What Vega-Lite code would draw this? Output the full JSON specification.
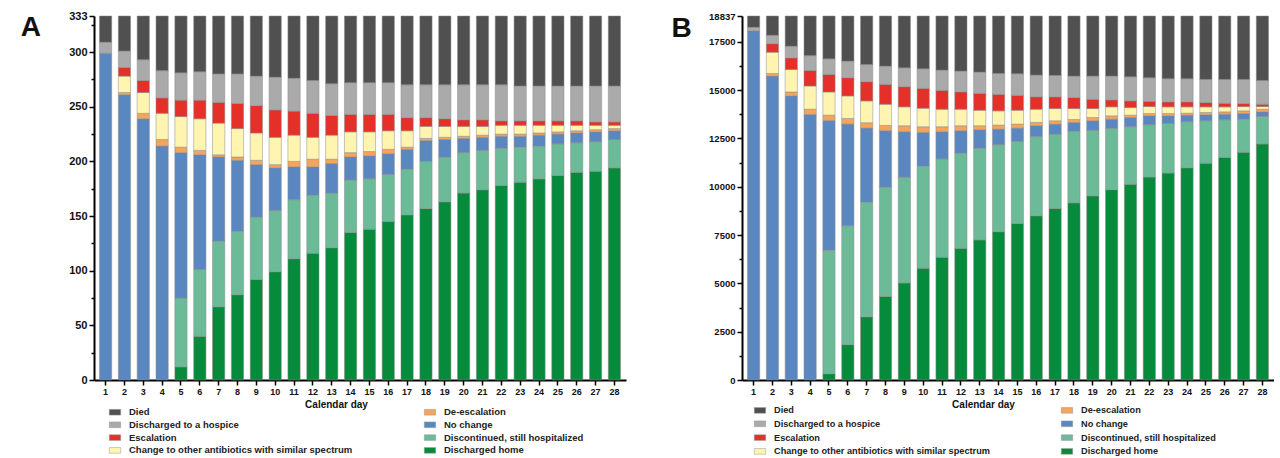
{
  "$schema": "https://vega.github.io/schema/vega-lite/v6.json",
  "padding": {"left": 20, "top": 10, "right": 0, "bottom": 0},
  "background": "white",
  "spacing": 45,
  "config": {"view": {"stroke": null}, "font": "Liberation Sans"},
  "datasets": {
    "cats": [
      {"key": "h", "label": "Discharged home", "ord": 1},
      {"key": "s", "label": "Discontinued, still hospitalized", "ord": 2},
      {"key": "n", "label": "No change", "ord": 3},
      {"key": "d", "label": "De-escalation", "ord": 4},
      {"key": "c", "label": "Change to other antibiotics with similar spectrum", "ord": 5},
      {"key": "e", "label": "Escalation", "ord": 6},
      {"key": "p", "label": "Discharged to a hospice", "ord": 7},
      {"key": "x", "label": "Died", "ord": 8}
    ],
    "A": [
      {"day": 1, "h": 0, "s": 0, "n": 299, "d": 0, "c": 0, "e": 0, "p": 10, "x": 24},
      {"day": 2, "h": 0, "s": 0, "n": 261, "d": 2, "c": 15, "e": 8, "p": 15, "x": 32},
      {"day": 3, "h": 0, "s": 0, "n": 239, "d": 5, "c": 19, "e": 11, "p": 19, "x": 40},
      {"day": 4, "h": 0, "s": 0, "n": 214, "d": 6, "c": 24, "e": 14, "p": 25, "x": 50},
      {"day": 5, "h": 12, "s": 63, "n": 133, "d": 5, "c": 28, "e": 15, "p": 25, "x": 52},
      {"day": 6, "h": 40, "s": 61, "n": 105, "d": 4, "c": 29, "e": 17, "p": 26, "x": 51},
      {"day": 7, "h": 67, "s": 60, "n": 77, "d": 2, "c": 29, "e": 19, "p": 26, "x": 53},
      {"day": 8, "h": 78, "s": 58, "n": 65, "d": 3, "c": 26, "e": 23, "p": 27, "x": 53},
      {"day": 9, "h": 92, "s": 57, "n": 48, "d": 4, "c": 25, "e": 25, "p": 27, "x": 55},
      {"day": 10, "h": 99, "s": 56, "n": 39, "d": 3, "c": 25, "e": 25, "p": 30, "x": 56},
      {"day": 11, "h": 111, "s": 54, "n": 30, "d": 5, "c": 24, "e": 22, "p": 30, "x": 57},
      {"day": 12, "h": 116, "s": 53, "n": 26, "d": 7, "c": 20, "e": 22, "p": 30, "x": 59},
      {"day": 13, "h": 121, "s": 50, "n": 27, "d": 4, "c": 22, "e": 18, "p": 29, "x": 62},
      {"day": 14, "h": 135, "s": 48, "n": 21, "d": 4, "c": 19, "e": 16, "p": 29, "x": 61},
      {"day": 15, "h": 138, "s": 46, "n": 21, "d": 4, "c": 18, "e": 16, "p": 29, "x": 61},
      {"day": 16, "h": 145, "s": 43, "n": 19, "d": 4, "c": 17, "e": 15, "p": 29, "x": 61},
      {"day": 17, "h": 151, "s": 42, "n": 18, "d": 2, "c": 15, "e": 12, "p": 30, "x": 63},
      {"day": 18, "h": 157, "s": 43, "n": 19, "d": 2, "c": 11, "e": 8, "p": 30, "x": 63},
      {"day": 19, "h": 163, "s": 41, "n": 16, "d": 2, "c": 10, "e": 7, "p": 31, "x": 63},
      {"day": 20, "h": 171, "s": 37, "n": 13, "d": 2, "c": 9, "e": 6, "p": 32, "x": 63},
      {"day": 21, "h": 174, "s": 36, "n": 12, "d": 2, "c": 8, "e": 6, "p": 32, "x": 63},
      {"day": 22, "h": 178, "s": 34, "n": 11, "d": 2, "c": 8, "e": 4, "p": 33, "x": 63},
      {"day": 23, "h": 181, "s": 32, "n": 10, "d": 2, "c": 8, "e": 4, "p": 32, "x": 64},
      {"day": 24, "h": 184, "s": 30, "n": 10, "d": 2, "c": 7, "e": 4, "p": 32, "x": 64},
      {"day": 25, "h": 187, "s": 29, "n": 9, "d": 2, "c": 6, "e": 4, "p": 32, "x": 64},
      {"day": 26, "h": 190, "s": 27, "n": 9, "d": 2, "c": 5, "e": 4, "p": 32, "x": 64},
      {"day": 27, "h": 191, "s": 27, "n": 9, "d": 2, "c": 4, "e": 3, "p": 33, "x": 64},
      {"day": 28, "h": 194, "s": 26, "n": 8, "d": 2, "c": 3, "e": 3, "p": 33, "x": 64}
    ],
    "B": [
      {"day": 1, "h": 0, "s": 0, "n": 18070, "d": 0, "c": 0, "e": 0, "p": 180, "x": 587},
      {"day": 2, "h": 0, "s": 0, "n": 15727, "d": 137, "c": 1098, "e": 442, "p": 432, "x": 1001},
      {"day": 3, "h": 0, "s": 0, "n": 14700, "d": 206, "c": 1162, "e": 601, "p": 601, "x": 1567},
      {"day": 4, "h": 0, "s": 0, "n": 13739, "d": 275, "c": 1200, "e": 802, "p": 771, "x": 2050},
      {"day": 5, "h": 324, "s": 6389, "n": 6718, "d": 274, "c": 1201, "e": 905, "p": 807, "x": 2219},
      {"day": 6, "h": 1830, "s": 6152, "n": 5260, "d": 292, "c": 1166, "e": 941, "p": 858, "x": 2338},
      {"day": 7, "h": 3270, "s": 5946, "n": 3819, "d": 278, "c": 1130, "e": 992, "p": 890, "x": 2512},
      {"day": 8, "h": 4318, "s": 5669, "n": 2914, "d": 273, "c": 1095, "e": 1028, "p": 945, "x": 2595},
      {"day": 9, "h": 5017, "s": 5484, "n": 2349, "d": 308, "c": 977, "e": 1043, "p": 977, "x": 2682},
      {"day": 10, "h": 5788, "s": 5278, "n": 1748, "d": 293, "c": 956, "e": 1028, "p": 1013, "x": 2733},
      {"day": 11, "h": 6353, "s": 5089, "n": 1408, "d": 257, "c": 905, "e": 976, "p": 1048, "x": 2801},
      {"day": 12, "h": 6816, "s": 4919, "n": 1166, "d": 257, "c": 854, "e": 894, "p": 1079, "x": 2852},
      {"day": 13, "h": 7247, "s": 4745, "n": 961, "d": 205, "c": 802, "e": 874, "p": 1100, "x": 2903},
      {"day": 14, "h": 7674, "s": 4508, "n": 802, "d": 207, "c": 738, "e": 854, "p": 1081, "x": 2973},
      {"day": 15, "h": 8101, "s": 4250, "n": 684, "d": 208, "c": 717, "e": 771, "p": 1116, "x": 2990},
      {"day": 16, "h": 8497, "s": 4096, "n": 565, "d": 170, "c": 684, "e": 637, "p": 1131, "x": 3057},
      {"day": 17, "h": 8872, "s": 3855, "n": 516, "d": 172, "c": 632, "e": 602, "p": 1110, "x": 3078},
      {"day": 18, "h": 9165, "s": 3700, "n": 463, "d": 154, "c": 565, "e": 566, "p": 1114, "x": 3110},
      {"day": 19, "h": 9524, "s": 3408, "n": 483, "d": 170, "c": 462, "e": 479, "p": 1201, "x": 3110},
      {"day": 20, "h": 9848, "s": 3172, "n": 478, "d": 174, "c": 463, "e": 360, "p": 1232, "x": 3110},
      {"day": 21, "h": 10126, "s": 2981, "n": 478, "d": 120, "c": 394, "e": 344, "p": 1249, "x": 3145},
      {"day": 22, "h": 10501, "s": 2709, "n": 462, "d": 119, "c": 359, "e": 273, "p": 1218, "x": 3196},
      {"day": 23, "h": 10707, "s": 2569, "n": 396, "d": 119, "c": 344, "e": 257, "p": 1198, "x": 3247},
      {"day": 24, "h": 10980, "s": 2384, "n": 341, "d": 103, "c": 327, "e": 257, "p": 1198, "x": 3247},
      {"day": 25, "h": 11221, "s": 2194, "n": 309, "d": 118, "c": 293, "e": 221, "p": 1199, "x": 3282},
      {"day": 26, "h": 11513, "s": 1954, "n": 288, "d": 123, "c": 257, "e": 185, "p": 1235, "x": 3282},
      {"day": 27, "h": 11786, "s": 1712, "n": 293, "d": 138, "c": 221, "e": 154, "p": 1251, "x": 3282},
      {"day": 28, "h": 12213, "s": 1423, "n": 242, "d": 134, "c": 138, "e": 119, "p": 1234, "x": 3334}
    ]
  },
  "resolve": {"scale": {"color": "independent"}, "legend": {"color": "independent"}},
  "hconcat": [
    {
      "width": 532,
      "height": 364,
      "title": {"text": "A", "anchor": "start", "frame": "bounds", "fontSize": 28, "fontWeight": "bold", "baseline": "top", "dx": -48, "dy": 5, "offset": -27, "color": "#111"},
      "data": {"name": "A"},
      "transform": [
        {"fold": ["h", "s", "n", "d", "c", "e", "p", "x"], "as": ["key", "v"]},
        {"filter": "datum.v > 0"},
        {"lookup": "key", "from": {"data": {"name": "cats"}, "key": "key", "fields": ["label", "ord"]}}
      ],
      "mark": {"type": "bar", "stroke": "#8a8a8a", "strokeWidth": 0.5},
      "encoding": {
        "x": {
          "field": "day", "type": "ordinal",
          "scale": {"paddingInner": 0.35, "paddingOuter": 0.29},
          "axis": {"title": "Calendar day", "titleX": 242, "titleFontSize": 10, "titleFontWeight": "bold", "titlePadding": 3, "titleColor": "#111", "labelAngle": 0, "labelFontSize": 9, "labelFontWeight": "bold", "labelColor": "#111", "labelPadding": 2, "tickSize": 5, "tickWidth": 1.5, "tickColor": "#000", "domainWidth": 2, "domainColor": "#000"}
        },
        "y": {
          "field": "v", "type": "quantitative", "stack": "zero",
          "scale": {"domain": [0, 333], "nice": false},
          "axis": {
            "title": null, "grid": false, "format": "d",
            "values": [0, 25, 50, 75, 100, 125, 150, 175, 200, 225, 250, 275, 300, 325, 333],
            "labelExpr": "datum.value % 50 === 0 || datum.value === 333 ? datum.label : ''",
            "tickSize": {"condition": {"test": "datum.value % 50 === 0 || datum.value === 333", "value": 5}, "value": 3},
            "labelFontSize": 11, "labelFontWeight": "bold", "labelColor": "#111", "labelPadding": 2,
            "tickWidth": 1.5, "tickColor": "#000", "domainWidth": 2, "domainColor": "#000"
          }
        },
        "color": {
          "field": "label", "type": "nominal",
          "scale": {
            "domain": ["Died", "Discharged to a hospice", "Escalation", "Change to other antibiotics with similar spectrum", "De-escalation", "No change", "Discontinued, still hospitalized", "Discharged home"],
            "range": ["#505050", "#aaaaaa", "#e5302a", "#fff5b0", "#f5a45e", "#5b87c1", "#6cbb98", "#068a3c"]
          },
          "legend": {"orient": "none", "direction": "vertical", "legendX": 15, "legendY": 390, "columns": 2, "title": null, "symbolType": "M-1,-0.5L1,-0.5L1,0.5L-1,0.5Z", "symbolSize": 130, "symbolStrokeWidth": 0.5, "symbolStrokeColor": "#999", "labelFontSize": 9.5, "labelFontWeight": "bold", "labelColor": "#222", "labelOffset": 8, "columnPadding": 70, "rowPadding": 1.8, "labelLimit": 400}
        },
        "order": {"field": "ord", "type": "quantitative"}
      }
    },
    {
      "width": 532,
      "height": 364,
      "title": {"text": "B", "anchor": "start", "frame": "bounds", "fontSize": 28, "fontWeight": "bold", "baseline": "top", "dx": -37, "dy": 5, "offset": -27, "color": "#111"},
      "data": {"name": "B"},
      "transform": [
        {"fold": ["h", "s", "n", "d", "c", "e", "p", "x"], "as": ["key", "v"]},
        {"filter": "datum.v > 0"},
        {"lookup": "key", "from": {"data": {"name": "cats"}, "key": "key", "fields": ["label", "ord"]}}
      ],
      "mark": {"type": "bar", "stroke": "#8a8a8a", "strokeWidth": 0.5},
      "encoding": {
        "x": {
          "field": "day", "type": "ordinal",
          "scale": {"paddingInner": 0.35, "paddingOuter": 0.29},
          "axis": {"title": "Calendar day", "titleX": 241, "titleFontSize": 10, "titleFontWeight": "bold", "titlePadding": 3, "titleColor": "#111", "labelAngle": 0, "labelFontSize": 9, "labelFontWeight": "bold", "labelColor": "#111", "labelPadding": 2, "tickSize": 5, "tickWidth": 1.5, "tickColor": "#000", "domainWidth": 2, "domainColor": "#000"}
        },
        "y": {
          "field": "v", "type": "quantitative", "stack": "zero",
          "scale": {"domain": [0, 18837], "nice": false},
          "axis": {
            "title": null, "grid": false, "format": "d",
            "values": [0, 1250, 2500, 3750, 5000, 6250, 7500, 8750, 10000, 11250, 12500, 13750, 15000, 16250, 17500, 18837],
            "labelExpr": "datum.value % 2500 === 0 || datum.value === 18837 ? datum.label : ''",
            "tickSize": {"condition": {"test": "datum.value % 2500 === 0 || datum.value === 18837", "value": 5}, "value": 3},
            "labelFontSize": 9.5, "labelFontWeight": "bold", "labelColor": "#111", "labelPadding": 2,
            "tickWidth": 1.5, "tickColor": "#000", "domainWidth": 2, "domainColor": "#000"
          }
        },
        "color": {
          "field": "label", "type": "nominal",
          "scale": {
            "domain": ["Died", "Discharged to a hospice", "Escalation", "Change to other antibiotics with similar spectrum", "De-escalation", "No change", "Discontinued, still hospitalized", "Discharged home"],
            "range": ["#505050", "#aaaaaa", "#e5302a", "#fff5b0", "#f5a45e", "#5b87c1", "#6cbb98", "#068a3c"]
          },
          "legend": {"orient": "none", "direction": "vertical", "legendX": 12, "legendY": 388, "columns": 2, "title": null, "symbolType": "M-1,-0.5L1,-0.5L1,0.5L-1,0.5Z", "symbolSize": 130, "symbolStrokeWidth": 0.5, "symbolStrokeColor": "#999", "labelFontSize": 9.2, "labelFontWeight": "bold", "labelColor": "#222", "labelOffset": 8, "columnPadding": 70, "rowPadding": 1.8, "labelLimit": 400}
        },
        "order": {"field": "ord", "type": "quantitative"}
      }
    }
  ]
}
